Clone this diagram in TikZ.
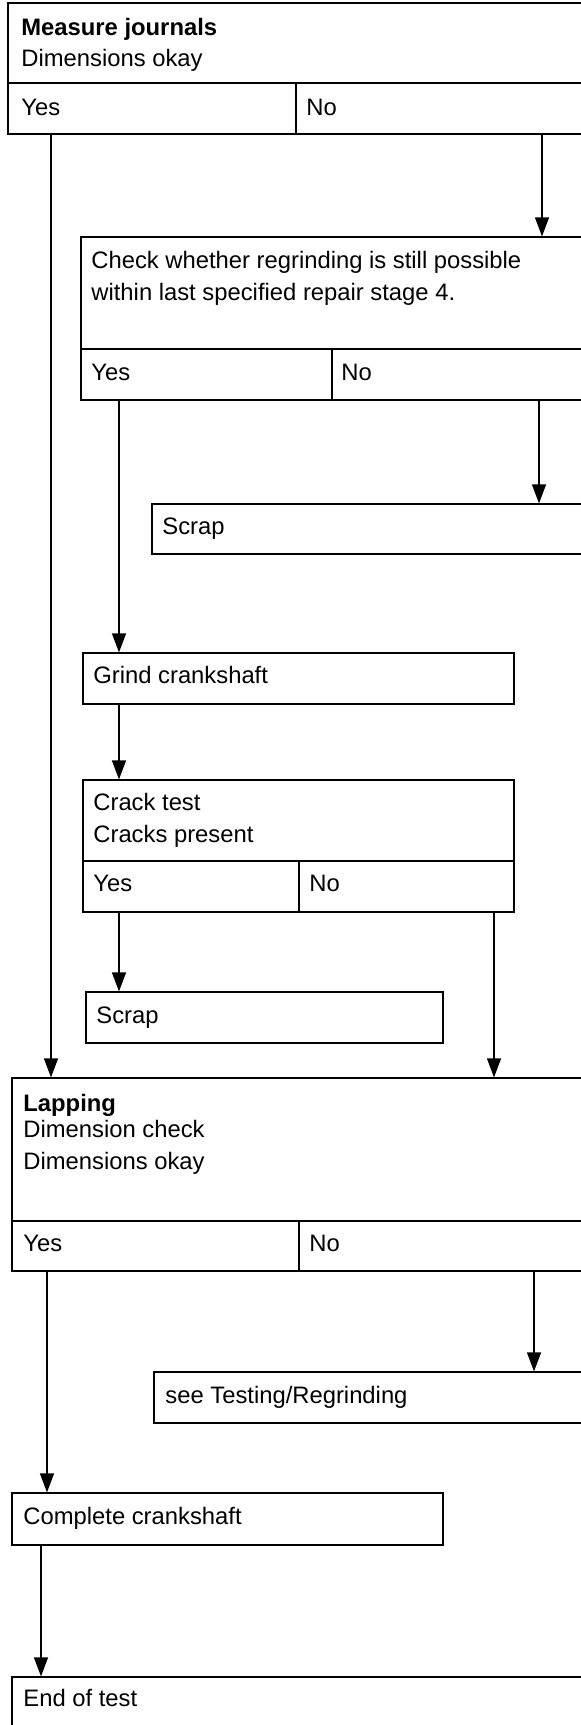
\documentclass[tikz,border=0pt]{standalone}
\usepackage{fontspec}
\setmainfont{Liberation Sans}
\usetikzlibrary{fit,arrows.meta}
\begin{document}
\begin{tikzpicture}[x=0.5pt,y=-0.5pt,
  cell/.style={draw, inner sep=0pt, line width=0.6pt},
  txt/.style={anchor=base west, inner sep=0pt, font=\fontsize{11.9}{14}\selectfont},
  btxt/.style={txt, font=\fontsize{11.9}{14}\selectfont\bfseries},
  arr/.style={line width=0.6pt, -{Triangle[length=9.5pt,width=7pt]}}]
\useasboundingbox (0,0) rectangle (580,1725);
% Box 1
\node[cell, fit={(8,3) (585,83)}] (b1) {};
\node[cell, fit={(8,83) (296,134)}] (b1y) {};
\node[cell, fit={(296,83) (585,134)}] (b1n) {};
\node[btxt] (t1a) at (21,35.5) {Measure journals};
\node[txt] (t1b) at (21,66.5) {Dimensions okay};
\node[txt] (t1y) at (21,115.5) {Yes};
\node[txt] (t1n) at (306,115.5) {No};
% Box 2
\node[cell, fit={(81,237) (585,349)}] (b2) {};
\node[cell, fit={(81,349) (332,400)}] (b2y) {};
\node[cell, fit={(332,349) (585,400)}] (b2n) {};
\node[txt] (t2a) at (91,268.5) {Check whether regrinding is still possible};
\node[txt] (t2b) at (91,300.5) {within last specified repair stage 4.};
\node[txt] (t2y) at (91,380.5) {Yes};
\node[txt] (t2n) at (341,380.5) {No};
% Scrap 1
\node[cell, fit={(152,504) (585,554)}] (s1) {};
\node[txt] (ts1) at (162,534.5) {Scrap};
% Grind
\node[cell, fit={(83,653) (514,704)}] (g) {};
\node[txt] (tg) at (93,683.5) {Grind crankshaft};
% Crack test
\node[cell, fit={(83,780) (514,861)}] (c) {};
\node[cell, fit={(83,861) (299,912)}] (cy) {};
\node[cell, fit={(299,861) (514,912)}] (cn) {};
\node[txt] (tca) at (93,810.5) {Crack test};
\node[txt] (tcb) at (93,842.5) {Cracks present};
\node[txt] (tcy) at (93,891.5) {Yes};
\node[txt] (tcn) at (309,891.5) {No};
% Scrap 2
\node[cell, fit={(86,992) (443,1043)}] (s2) {};
\node[txt] (ts2) at (96,1023.5) {Scrap};
% Lapping
\node[cell, fit={(12,1078) (585,1221)}] (l) {};
\node[cell, fit={(12,1221) (299,1271)}] (ly) {};
\node[cell, fit={(299,1221) (585,1271)}] (ln) {};
\node[btxt] (tla) at (23,1111.5) {Lapping};
\node[txt] (tlb) at (23,1137.5) {Dimension check};
\node[txt] (tlc) at (23,1169.5) {Dimensions okay};
\node[txt] (tly) at (23,1251.5) {Yes};
\node[txt] (tln) at (309,1251.5) {No};
% see Testing
\node[cell, fit={(154,1372) (585,1423)}] (t) {};
\node[txt] (tt) at (165,1403.5) {see Testing/Regrinding};
% Complete
\node[cell, fit={(12,1493) (443,1545)}] (cc) {};
\node[txt] (tcc) at (23,1524.5) {Complete crankshaft};
% End
\node[cell, fit={(12,1677) (585,1730)}] (e) {};
\node[txt] (te) at (23,1706.5) {End of test};
% Connectors
\draw[arr] (51,0 |- b1y.south) -- (51,0 |- l.north);
\draw[arr] (542,0 |- b1n.south) -- (542,0 |- b2.north);
\draw[arr] (119,0 |- b2y.south) -- (119,0 |- g.north);
\draw[arr] (539,0 |- b2n.south) -- (539,0 |- s1.north);
\draw[arr] (119,0 |- g.south) -- (119,0 |- c.north);
\draw[arr] (119,0 |- cy.south) -- (119,0 |- s2.north);
\draw[arr] (494,0 |- cn.south) -- (494,0 |- l.north);
\draw[arr] (47,0 |- ly.south) -- (47,0 |- cc.north);
\draw[arr] (534,0 |- ln.south) -- (534,0 |- t.north);
\draw[arr] (41,0 |- cc.south) -- (41,0 |- e.north);
\end{tikzpicture}
\end{document}
